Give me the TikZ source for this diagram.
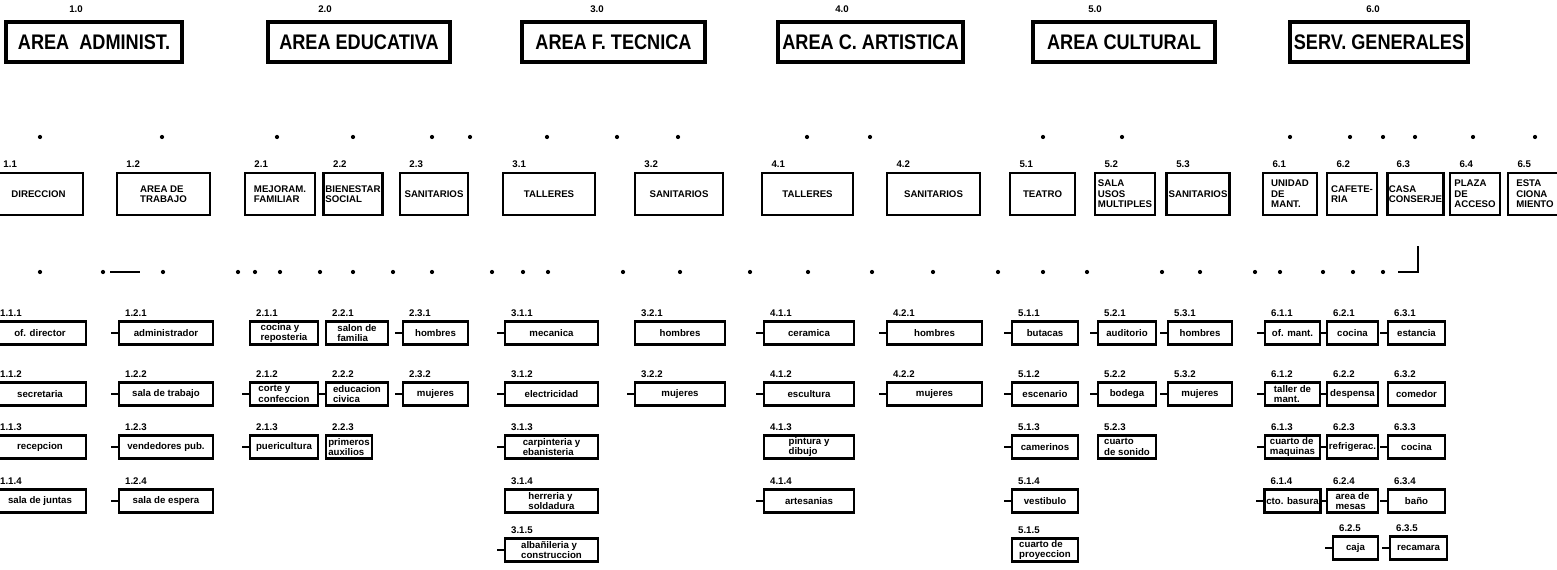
\documentclass[tikz,border=0pt]{standalone}
\usepackage{fontspec}
\setmainfont{Liberation Sans}
\newfontfamily\narrowsf[FakeStretch=0.86]{Liberation Sans}
\usetikzlibrary{positioning}

\tikzset{
	areabox/.style={draw,line width=1.8pt,inner sep=0pt,minimum height=0.8cm,font=\narrowsf\bfseries\fontsize{12}{14}\selectfont},
	secbox/.style={draw,line width=1.6pt,inner sep=1pt,minimum height=0.84cm,align=left,font=\bfseries\fontsize{5.5}{6}\selectfont},
	subbox/.style={draw,line width=1.4pt,inner sep=1pt,minimum height=0.46cm,align=left,font=\bfseries\fontsize{5.5}{6}\selectfont},
	num/.style={inner sep=0pt,font=\bfseries\fontsize{5.5}{6}\selectfont},
	stub/.style={line width=0.8pt},
	speck/.style={fill=black,circle,inner sep=0pt,minimum size=2.4pt},
}

\begin{document}
\begin{tikzpicture}[x=0.02cm,y=-0.02cm]
	\useasboundingbox (0,0) rectangle (1557,570);
	
	% areas
	\foreach \nm/\xa/\xb/\xl/\lbl/\txt in {
		1/6/182/76/1.0/{AREA\ \ ADMINIST.},
		2/268/450/325/2.0/{AREA EDUCATIVA},
		3/522/705/597/3.0/{AREA F. TECNICA},
		4/778/963/842/4.0/{AREA C. ARTISTICA},
		5/1033/1215/1095/5.0/{AREA CULTURAL},
		6/1290/1468/1373/6.0/{SERV. GENERALES}}{
		\node[areabox,minimum width={(\xb-\xa)*0.02cm}] (a\nm) at ({(\xa+\xb)/2},42) {\txt};
		\node[num] at (\xl,9) {\lbl};
	}
	
	% sections
	\foreach \nm/\xa/\xb/\lbl/\txt in {
		11/-6/83/1.1/DIRECCION,
		12/117/210/1.2/{AREA DE\\TRABAJO},
		21/245/315/2.1/{MEJORAM.\\FAMILIAR},
		22/324/382/2.2/{BIENESTAR\\SOCIAL},
		23/400/468/2.3/SANITARIOS,
		31/503/595/3.1/TALLERES,
		32/635/723/3.2/SANITARIOS,
		41/762/853/4.1/TALLERES,
		42/887/980/4.2/SANITARIOS,
		51/1010/1075/5.1/TEATRO,
		52/1095/1155/5.2/{SALA\\USOS\\MULTIPLES},
		53/1168/1228/5.3/SANITARIOS,
		61/1263/1317/6.1/{UNIDAD\\DE\\MANT.},
		62/1327/1377/6.2/{CAFETE-\\RIA},
		63/1388/1443/6.3/{CASA\\CONSERJE},
		64/1450/1500/6.4/{PLAZA\\DE\\ACCESO},
		65/1508/1562/6.5/{ESTA\\CIONA\\MIENTO}}{
		\node[secbox,minimum width={(\xb-\xa)*0.02cm}] (s\nm) at ({(\xa+\xb)/2},194) {\txt};
		\node[num,anchor=south west] at ([xshift=6pt,yshift=2pt]s\nm.north west) {\lbl};
	}
	
	% spaces
	\foreach \nm/\xa/\xb/\yc/\lbl/\txt in {
		111/-6/86/333/1.1.1/{of. director},
		112/-6/86/394/1.1.2/secretaria,
		113/-6/86/447/1.1.3/recepcion,
		114/-6/86/501/1.1.4/{sala de juntas},
		121/119/213/333/1.2.1/administrador,
		122/119/213/394/1.2.2/{sala de trabajo},
		123/119/213/447/1.2.3/{vendedores pub.},
		124/119/213/501/1.2.4/{sala de espera},
		211/250/318/333/2.1.1/{cocina y\\reposteria},
		212/250/318/394/2.1.2/{corte y\\confeccion},
		213/250/318/447/2.1.3/puericultura,
		221/326/388/333/2.2.1/{salon de\\familia},
		222/326/388/394/2.2.2/{educacion\\civica},
		223/326/372/447/2.2.3/{primeros\\auxilios},
		231/403/468/333/2.3.1/hombres,
		232/403/468/394/2.3.2/mujeres,
		311/505/598/333/3.1.1/mecanica,
		312/505/598/394/3.1.2/electricidad,
		313/505/598/447/3.1.3/{carpinteria y\\ebanisteria},
		314/505/598/501/3.1.4/{herreria y\\soldadura},
		315/505/598/550/3.1.5/{albañileria y\\construccion},
		321/635/725/333/3.2.1/hombres,
		322/635/725/394/3.2.2/mujeres,
		411/764/854/333/4.1.1/ceramica,
		412/764/854/394/4.1.2/escultura,
		413/764/854/447/4.1.3/{pintura y\\dibujo},
		414/764/854/501/4.1.4/artesanias,
		421/887/982/333/4.2.1/hombres,
		422/887/982/394/4.2.2/mujeres,
		511/1012/1078/333/5.1.1/butacas,
		512/1012/1078/394/5.1.2/escenario,
		513/1012/1078/447/5.1.3/camerinos,
		514/1012/1078/501/5.1.4/vestibulo,
		515/1012/1078/550/5.1.5/{cuarto de\\proyeccion},
		521/1098/1156/333/5.2.1/auditorio,
		522/1098/1156/394/5.2.2/bodega,
		523/1098/1156/447/5.2.3/{cuarto\\de sonido},
		531/1168/1232/333/5.3.1/hombres,
		532/1168/1232/394/5.3.2/mujeres,
		611/1265/1320/333/6.1.1/{of. mant.},
		612/1265/1320/394/6.1.2/{taller de\\mant.},
		613/1265/1320/447/6.1.3/{cuarto de\\maquinas},
		614/1265/1320/501/6.1.4/{cto. basura},
		621/1327/1378/333/6.2.1/cocina,
		622/1327/1378/394/6.2.2/despensa,
		623/1327/1378/447/6.2.3/refrigerac.,
		624/1327/1378/501/6.2.4/{area de\\mesas},
		625/1333/1378/548/6.2.5/caja,
		631/1388/1445/333/6.3.1/estancia,
		632/1388/1445/394/6.3.2/comedor,
		633/1388/1445/447/6.3.3/cocina,
		634/1388/1445/501/6.3.4/baño,
		635/1390/1447/548/6.3.5/recamara}{
		\node[subbox,minimum width={(\xb-\xa)*0.02cm}] (b\nm) at ({(\xa+\xb)/2},\yc) {\txt};
		\node[num,anchor=south west] at ([xshift=4pt,yshift=2pt]b\nm.north west) {\lbl};
	}
	
	% left stubs of the faded connectors
	\foreach \nm in {121,122,123,124,212,213,222,231,232,311,312,313,315,322,
		411,412,414,421,422,511,512,513,514,521,522,531,532,
		611,612,613,614,621,622,623,624,625,631,633,634,635}
		\draw[stub] (b\nm.west) -- ++(-7,0);
	
	% what is left of the two bus lines
	\foreach \x in {40,162,277,353,432,470,547,617,678,807,870,1043,1122,1290,1350,1383,1415,1473,1535}
		\node[speck] at (\x,137) {};
	\foreach \x in {40,103,163,238,255,280,320,353,393,432,492,523,548,623,680,750,808,872,933,998,1043,1087,1162,1200,1255,1280,1323,1353,1383}
		\node[speck] at (\x,272) {};
	\draw[stub] (110,272) -- (140,272);
	\draw[stub] (1398,272) -- (1418,272) -- (1418,246);
\end{tikzpicture}
\end{document}
